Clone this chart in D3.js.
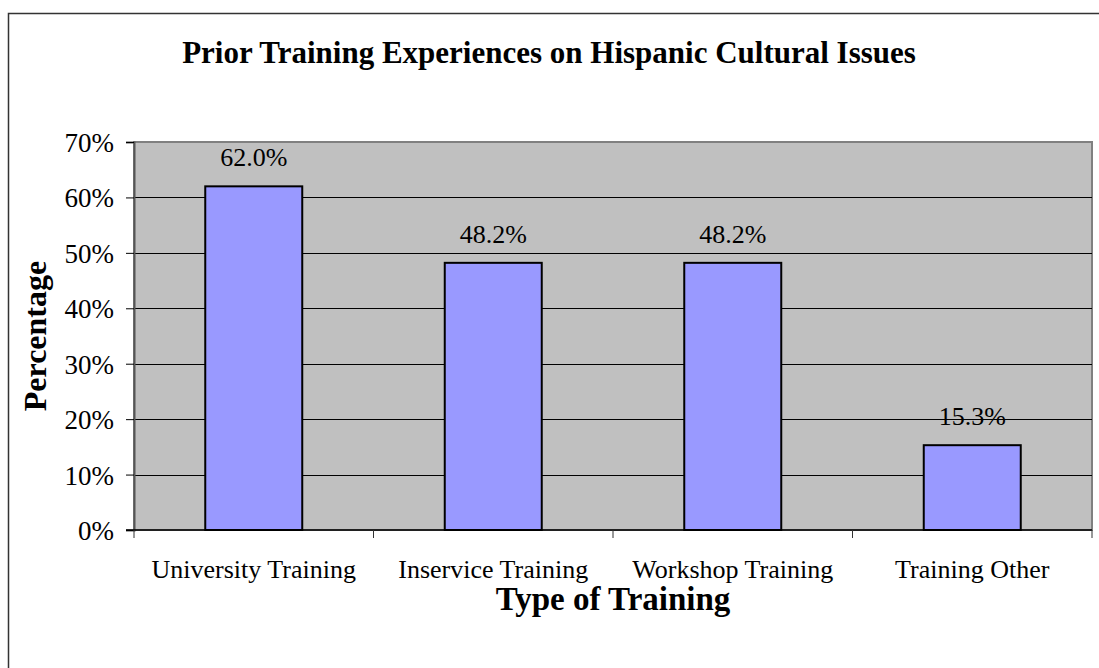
<!DOCTYPE html>
<html>
<head>
<meta charset="utf-8">
<script src="https://d3js.org/d3.v7.min.js"></script>
<style>
    body { margin: 0; background: #fff; }
    svg text { font-family: 'Liberation Serif', 'Times New Roman', serif !important; fill: #000; }
    .title { font-size: 31px; font-weight: bold; }
    .axisTitle { font-size: 33px; font-weight: bold; }
    .tick text { font-size: 27px !important; }
    .valLabel { font-size: 26px; }
    .xlab { font-size: 26px; }
</style>
</head>
<body>
<svg width="1099" height="668"></svg>
<script>
// data
var categories = ["University Training", "Inservice Training", "Workshop Training", "Training Other"];
var values = [62.0, 48.2, 48.2, 15.3];
var yTicks = [0, 10, 20, 30, 40, 50, 60, 70];

var svg = d3.select("svg"),
    width = +svg.attr("width"),
    height = +svg.attr("height");

var plot = {left: 134, right: 1092, top: 142, bottom: 530};

// outer chart border (runs off the right / bottom of the picture)
svg.append("rect")
    .attr("x", 8.5).attr("y", 13.5)
    .attr("width", 1200).attr("height", 800)
    .attr("fill", "#fff")
    .attr("stroke", "#333")
    .attr("stroke-width", 1.5);

var x = d3.scaleBand()
    .domain(categories)
    .range([plot.left, plot.right]);

var y = d3.scaleLinear()
    .domain([0, 70])
    .range([plot.bottom, plot.top]);

// plot background
svg.append("rect")
    .attr("x", plot.left).attr("y", plot.top)
    .attr("width", plot.right - plot.left)
    .attr("height", plot.bottom - plot.top)
    .attr("fill", "#c0c0c0")
    .attr("stroke", "#808080")
    .attr("stroke-width", 2);

// gridlines
svg.append("g")
    .selectAll("line")
    .data(yTicks.filter(function (d) { return d > 0 && d < 70; }))
    .enter().append("line")
    .attr("x1", plot.left).attr("x2", plot.right)
    .attr("y1", function (d) { return Math.round(y(d)) + 0.5; })
    .attr("y2", function (d) { return Math.round(y(d)) + 0.5; })
    .attr("stroke", "#000")
    .attr("stroke-width", 1);

// bars
var barW = x.bandwidth() * 0.405;
svg.append("g")
    .selectAll("rect")
    .data(values)
    .enter().append("rect")
    .attr("x", function (d, i) { return x(categories[i]) + (x.bandwidth() - barW) / 2; })
    .attr("y", function (d) { return y(d); })
    .attr("width", barW)
    .attr("height", function (d) { return y(0) - y(d); })
    .attr("fill", "#9999ff")
    .attr("stroke", "#000")
    .attr("stroke-width", 2);

// value labels
svg.append("g")
    .selectAll("text")
    .data(values)
    .enter().append("text")
    .attr("class", "valLabel")
    .attr("x", function (d, i) { return x(categories[i]) + x.bandwidth() / 2; })
    .attr("y", function (d) { return y(d) - 20; })
    .attr("text-anchor", "middle")
    .text(function (d) { return d.toFixed(1) + "%"; });

// y axis
var yAxis = d3.axisLeft(y)
    .tickValues(yTicks)
    .tickSize(8)
    .tickPadding(12)
    .tickFormat(function (d) { return d + "%"; });
var yG = svg.append("g")
    .attr("transform", "translate(" + plot.left + ",0)")
    .call(yAxis)
    .attr("font-family", null)
    .attr("font-size", null);
yG.select(".domain").attr("stroke", "#555").attr("stroke-width", 2);
yG.selectAll(".tick line").attr("stroke", "#000");
yG.selectAll(".tick text").attr("dy", "0.35em");

// x axis, ticks at category boundaries
var xG = svg.append("g")
    .attr("transform", "translate(0," + plot.bottom + ")");
xG.append("line")
    .attr("x1", plot.left - 8).attr("x2", plot.right)
    .attr("y1", 0).attr("y2", 0)
    .attr("stroke", "#000").attr("stroke-width", 1.5);
xG.selectAll(".xtick")
    .data(categories.concat([null]))
    .enter().append("line")
    .attr("class", "xtick")
    .attr("x1", function (d, i) { return plot.left + i * x.step(); })
    .attr("x2", function (d, i) { return plot.left + i * x.step(); })
    .attr("y1", 0).attr("y2", 8)
    .attr("stroke", "#333").attr("stroke-width", 1);
xG.selectAll(".xlab")
    .data(categories)
    .enter().append("text")
    .attr("class", "xlab")
    .attr("x", function (d) { return x(d) + x.bandwidth() / 2; })
    .attr("y", 48)
    .attr("text-anchor", "middle")
    .text(function (d) { return d; });

// titles
svg.append("text")
    .attr("class", "title")
    .attr("x", 549)
    .attr("y", 63)
    .attr("text-anchor", "middle")
    .text("Prior Training Experiences on Hispanic Cultural Issues");

svg.append("text")
    .attr("class", "axisTitle")
    .attr("x", (plot.left + plot.right) / 2)
    .attr("y", 610)
    .attr("text-anchor", "middle")
    .text("Type of Training");

svg.append("text")
    .attr("class", "axisTitle")
    .style("font-size", "32px")
    .attr("transform", "translate(46," + ((plot.top + plot.bottom) / 2) + ") rotate(-90)")
    .attr("text-anchor", "middle")
    .text("Percentage");
</script>
</body>
</html>
